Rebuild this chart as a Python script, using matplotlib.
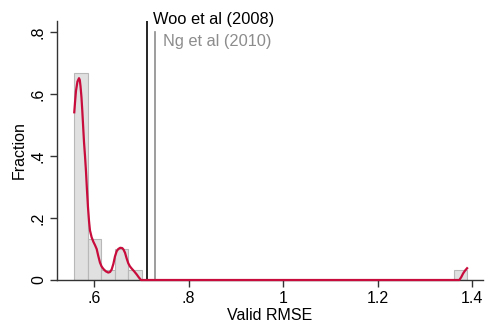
import numpy as np
import matplotlib
matplotlib.use("Agg")
import matplotlib.pyplot as plt

plt.rcParams['font.family'] = ['Liberation Sans', 'DejaVu Sans']

# histogram: 29 bins between min and max of valid RMSE
rmse_min = 0.558
rmse_max = 1.389
n_bins = 29
bin_fraction = [0.6667, 0.1333, 0.0333, 0.1, 0.0333] + [0.0] * 23 + [0.0333]

# kernel density (scaled)
kde_x = [0.5583, 0.5600, 0.5619, 0.5650, 0.5683, 0.5700, 0.5715, 0.5735, 0.5753,
         0.5771, 0.5789, 0.5810, 0.5831, 0.5850, 0.5873, 0.5895, 0.5915, 0.5950,
         0.5985, 0.6020, 0.6057, 0.6090, 0.6127, 0.6160, 0.6197, 0.6250, 0.6302,
         0.6340, 0.6374, 0.6410, 0.6444, 0.6480, 0.6514, 0.6555, 0.6598, 0.6625,
         0.6656, 0.6690, 0.6725, 0.6760, 0.6797, 0.6850, 0.6903, 0.6950, 0.6994,
         1.3725, 1.3765, 1.3809, 1.3850, 1.3890]
kde_y = [0.541, 0.575, 0.610, 0.640, 0.651, 0.645, 0.625, 0.590, 0.545,
         0.495, 0.445, 0.400, 0.350, 0.295, 0.235, 0.190, 0.160, 0.138,
         0.124, 0.113, 0.100, 0.078, 0.056, 0.044, 0.036, 0.028, 0.024,
         0.026, 0.034, 0.052, 0.076, 0.093, 0.100, 0.104, 0.103, 0.098,
         0.088, 0.070, 0.054, 0.044, 0.037, 0.028, 0.018, 0.008, 0.0,
         0.0, 0.009, 0.022, 0.031, 0.038]

# reference studies
ref_names = ["Woo et al (2008)", "Ng et al (2010)"]
ref_values = [0.7114, 0.7296]

fig = plt.figure(figsize=(4.86, 3.22), dpi=100)
ax = fig.add_axes([0.1173, 0.1304, 0.8765, 0.8044])

edges = np.linspace(rmse_min, rmse_max, n_bins + 1)
ax.bar(edges[:-1], bin_fraction, width=np.diff(edges), align='edge',
       color='#e0e0e0', edgecolor='#b8b8b8', linewidth=0.8, zorder=1)

ax.plot(kde_x, kde_y, color='#c80c3c', linewidth=1.6, zorder=4, clip_on=False)

ax.axvline(ref_values[0], ymin=0, ymax=1, color='black', linewidth=1.2, zorder=3)
ax.plot([ref_values[1], ref_values[1]], [0, 0.8], color='#8c8c8c', linewidth=1.2, zorder=3)
ax.text(ref_values[0] + 0.0134, 0.839, ref_names[0], color='black', fontsize=11.8,
        va='center', ha='left')
ax.text(ref_values[1] + 0.0163, 0.768, ref_names[1], color='#8c8c8c', fontsize=11.8,
        va='center', ha='left')

ax.set_xlim(0.5218, 1.4226)
ax.set_ylim(0, 0.8355)

ax.set_xticks([0.6, 0.8, 1.0, 1.2, 1.4])
ax.set_xticklabels([".6", ".8", "1", "1.2", "1.4"])
ax.set_yticks([0, 0.2, 0.4, 0.6, 0.8])
ax.set_yticklabels(["0", ".2", ".4", ".6", ".8"], rotation=90, va='center')

for side in ['top', 'right']:
    ax.spines[side].set_visible(False)
for side in ['left', 'bottom']:
    ax.spines[side].set_color('#333333')
    ax.spines[side].set_linewidth(1.0)

ax.tick_params(axis='both', direction='out', length=5, width=1.0, color='#333333',
               labelsize=11.5, pad=3)

ax.set_xlabel("Valid RMSE", fontsize=11.5, labelpad=1)
ax.set_ylabel("Fraction", fontsize=11.5, labelpad=3)

fig.savefig("out.png", dpi=100)
